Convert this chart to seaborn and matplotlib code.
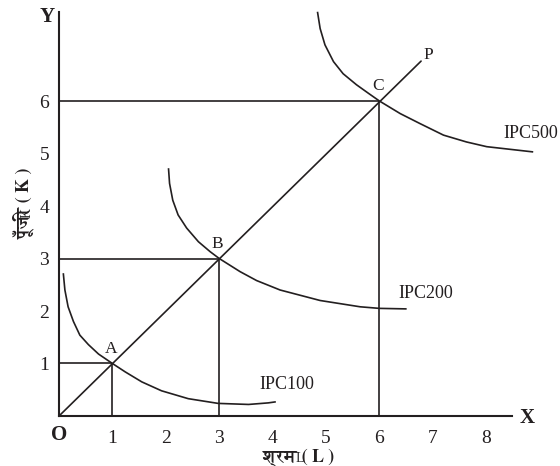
import matplotlib
matplotlib.use("Agg")
import matplotlib.pyplot as plt
import seaborn as sns
import pandas as pd
from matplotlib import font_manager

# isoquant points (L, K)
ipc100_L = [0.08, 0.11, 0.17, 0.27, 0.39, 0.55, 0.74, 1.0, 1.24, 1.55, 1.92, 2.42, 2.98, 3.55, 3.92, 4.06]
ipc100_K = [2.72, 2.40, 2.08, 1.80, 1.54, 1.36, 1.18, 1.0, 0.84, 0.65, 0.48, 0.33, 0.24, 0.22, 0.25, 0.27]
ipc200_L = [2.05, 2.07, 2.13, 2.23, 2.39, 2.61, 2.83, 3.0, 3.39, 3.7, 4.14, 4.89, 5.64, 6.0, 6.51]
ipc200_K = [4.72, 4.43, 4.11, 3.83, 3.58, 3.32, 3.13, 3.0, 2.75, 2.58, 2.40, 2.20, 2.08, 2.05, 2.04]
ipc500_L = [4.84, 4.89, 4.98, 5.14, 5.32, 5.57, 5.79, 6.0, 6.39, 6.76, 7.2, 7.63, 8.01, 8.88]
ipc500_K = [7.70, 7.38, 7.07, 6.75, 6.52, 6.31, 6.15, 6.0, 5.76, 5.57, 5.35, 5.22, 5.13, 5.03]

# expansion path O -> P
ray_L = [0, 6.78]
ray_K = [0, 6.76]

# equilibrium points A, B, C
point_names = ["A", "B", "C"]
point_L = [1, 3, 6]
point_K = [1, 3, 6]

curve_names = ["IPC100", "IPC200", "IPC500"]
x_ticks = [1, 2, 3, 4, 5, 6, 7, 8]
y_ticks = [1, 2, 3, 4, 5, 6, 7]
y_tick_labels = ["1", "2", "3", "4", "5", "6", ""]

x_title = "श्रम ( L )"
y_title = "पूँजी ( K )"

sns.set_style("white")

# fonts that can draw Devanagari, serif one first
deva = sorted(set(f.name for f in font_manager.fontManager.ttflist
                  if "Devanagari" in f.name or f.name in ("FreeSerif", "Hind")))
if "FreeSerif" in deva:
    deva.remove("FreeSerif")
    deva.insert(0, "FreeSerif")
plt.rcParams["font.family"] = ["Liberation Serif", "DejaVu Sans"]
hindi_family = deva + ["Liberation Serif", "DejaVu Sans"]

ink = "#231f20"
lw = 1.2

fig = plt.figure(figsize=(5.6, 4.66), dpi=100)
ax = fig.add_axes([0.1054, 0.1073, 0.8582, 0.8731])

curves = pd.concat([
    pd.DataFrame({"L": ipc100_L, "K": ipc100_K, "curve": curve_names[0]}),
    pd.DataFrame({"L": ipc200_L, "K": ipc200_K, "curve": curve_names[1]}),
    pd.DataFrame({"L": ipc500_L, "K": ipc500_K, "curve": curve_names[2]}),
])
for name, grp in curves.groupby("curve"):
    sns.lineplot(data=grp, x="L", y="K", sort=False, estimator=None,
                 color=ink, lw=lw, ax=ax, legend=False, clip_on=False,
                 solid_joinstyle="round", solid_capstyle="butt")

sns.lineplot(x=ray_L, y=ray_K, color=ink, lw=lw, ax=ax, legend=False)

# drop lines to both axes
ax.hlines(point_K, 0, point_L, color=ink, lw=lw)
ax.vlines(point_L, 0, point_K, color=ink, lw=lw)

ax.set_xlim(0, 9.0)
ax.set_ylim(0, 7.75)
for s in ["top", "right"]:
    ax.spines[s].set_visible(False)
ax.spines["bottom"].set_bounds(0, 8.48)
ax.spines["left"].set_bounds(0, 7.70)
for s in ["bottom", "left"]:
    ax.spines[s].set_color(ink)
    ax.spines[s].set_linewidth(1.5)

ax.set_xticks(x_ticks)
ax.set_xticklabels([str(t) for t in x_ticks])
ax.set_yticks(y_ticks)
ax.set_yticklabels(y_tick_labels)
ax.tick_params(axis="both", direction="in", length=4, width=1.3, color=ink,
               labelsize=14, labelcolor=ink)
ax.tick_params(axis="x", pad=10)
ax.tick_params(axis="y", pad=7)

# point letters
for name, L, K in zip(point_names, point_L, point_K):
    ax.text(L - 0.03, K + 0.13, name, ha="center", va="bottom", fontsize=12.5, color=ink)

ax.text(6.82, 6.72, "P", ha="left", va="bottom", fontsize=12.5, color=ink)
ax.text(3.76, 0.44, curve_names[0], ha="left", va="bottom", fontsize=13, color=ink)
ax.text(6.35, 2.17, curve_names[1], ha="left", va="bottom", fontsize=13, color=ink)
ax.text(8.33, 5.22, curve_names[2], ha="left", va="bottom", fontsize=13, color=ink, clip_on=False)

ax.text(0.0, -0.37, "O", ha="center", va="center", fontsize=15, fontweight="bold", color=ink, clip_on=False)
ax.text(8.77, -0.04, "X", ha="center", va="center", fontsize=15, fontweight="bold", color=ink, clip_on=False)
ax.text(-0.22, 7.6, "Y", ha="center", va="center", fontsize=15, fontweight="bold", color=ink, clip_on=False)

# axis titles, whole string in one Devanagari-capable serif
ax.text(4.5, -0.79, x_title, ha="center", va="center", fontsize=13, fontweight="bold",
        family=hindi_family, color=ink, clip_on=False)
ax.text(-0.66, 4.05, y_title, ha="center", va="center", rotation=90, fontsize=13,
        fontweight="bold", family=hindi_family, color=ink, clip_on=False)

fig.savefig("out.png", dpi=100)
